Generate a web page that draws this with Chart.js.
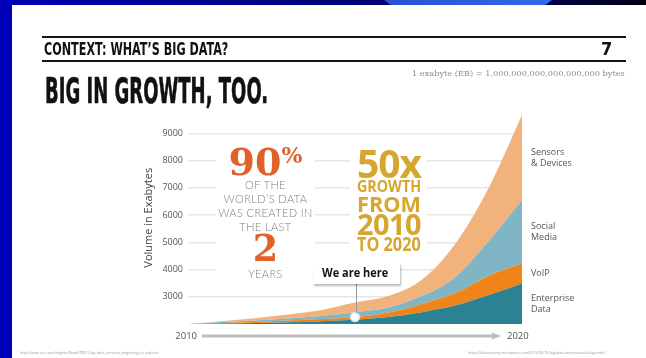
<!DOCTYPE html>
<html>
<head>
<meta charset="utf-8">
<script src="https://cdn.jsdelivr.net/npm/chart.js@4.4.1/dist/chart.umd.min.js"></script>
<style>
  html, body { margin: 0; padding: 0; }
  body { width: 646px; height: 358px; overflow: hidden; background: #fff; position: relative; font-family: 'Open Sans', sans-serif; }
  #topbar { position: absolute; left: 0; top: 0; width: 646px; height: 5px; background: linear-gradient(90deg, #0000b4 0%, #00007c 50%, #000058 80%, #000012 100%); z-index: 3; }
  #tab { position: absolute; left: 384px; top: 0; width: 168px; height: 5px; background: linear-gradient(90deg, #2850d4, #3467ec); clip-path: polygon(0 0, 100% 0, 96% 100%, 4% 100%); z-index: 4; }
  #leftbar { position: absolute; left: 0; top: 0; width: 12px; height: 358px; background: #0000b8; z-index: 3; }
  #chart { position: absolute; left: 0; top: 0; z-index: 1; }
  .rule { position: absolute; left: 42px; width: 584px; height: 1.5px; background: #151515; z-index: 2; }
  .abs { position: absolute; white-space: nowrap; line-height: 1; z-index: 2; transform-origin: left top; }
  .cond { font-family: 'Liberation Sans Narrow', 'DejaVu Sans Condensed', sans-serif; font-weight: bold; color: #111; }
  .box { position: absolute; background: #fff; z-index: 2; }
  .serif { font-family: 'DejaVu Serif', serif; font-weight: bold; color: #e2612a; }
  .thin { font-family: 'Lato', sans-serif; font-weight: 300; color: #7c7c7c; font-size: 11px; letter-spacing: 0.4px; width: 99px; text-align: center; left: 0; }
  .gold { font-family: 'Open Sans', sans-serif; font-weight: bold; color: #d6a62e; left: 7px; }
  #here { position: absolute; left: 313px; top: 263px; width: 87px; height: 21px; background: #fff; box-shadow: 1px 2px 2px rgba(0,0,0,0.28); z-index: 2; }
  .src { position: absolute; top: 350px; font-size: 3.6px; color: #9a9a9a; white-space: nowrap; z-index: 2; }
</style>
</head>
<body>
<div id="topbar"></div><div id="tab"></div><div id="leftbar"></div>

<div class="rule" style="top:36px"></div>
<div class="abs cond" data-fit="184" style="left:44px; top:40px; font-size:18px;">CONTEXT: WHAT’S BIG DATA?</div>
<div class="abs cond" style="left:601px; top:40px; font-size:18px;">7</div>
<div class="rule" style="top:60px"></div>
<div class="abs cond" data-fit="223" style="left:45px; top:73px; font-size:36px; -webkit-text-stroke:0.6px #111;">BIG IN GROWTH, TOO.</div>
<div class="abs" data-fit="213" style="left:412px; top:70px; font-family:'DejaVu Serif', serif; font-size:8px; color:#8c8c8c;">1 exabyte (EB) = 1,000,000,000,000,000,000 bytes</div>

<canvas id="chart" width="646" height="358"></canvas>

<!-- "90%" panel -->
<div class="box" style="left:216px; top:140px; width:99px; height:147px;">
  <div class="abs serif" style="left:0; width:99px; text-align:center; top:2.5px; font-size:38px;">90<span style="font-size:22px; vertical-align:top; position:relative; top:1px;">%</span></div>
  <div class="abs thin" style="top:39px;">OF THE</div>
  <div class="abs thin" style="top:53.4px;">WORLD’S DATA</div>
  <div class="abs thin" style="top:66.8px;">WAS CREATED IN</div>
  <div class="abs thin" style="top:80.8px;">THE LAST</div>
  <div class="abs serif" style="left:0; width:99px; text-align:center; top:90.7px; font-size:36.5px;">2</div>
  <div class="abs thin" style="top:128.4px;">YEARS</div>
</div>

<!-- "50x" panel -->
<div class="box" style="left:350px; top:140px; width:77px; height:117px;">
  <div class="abs gold" data-fit="64" style="top:3.2px; font-size:39px; letter-spacing:-1px;">50x</div>
  <div class="abs gold" data-fit="64" style="top:39px; font-size:15.4px;">GROWTH</div>
  <div class="abs gold" data-fit="64" style="top:52.2px; font-size:22px;">FROM</div>
  <div class="abs gold" data-fit="64" style="top:70.1px; font-size:28px; letter-spacing:-0.5px;">2010</div>
  <div class="abs gold" data-fit="64" style="top:95px; font-size:18.8px;">TO 2020</div>
</div>

<div id="here"><div class="abs" data-fit="66" style="left:9px; top:4px; font-size:11.5px; font-weight:bold; color:#111;">We are here</div></div>

<div class="src" style="left:20px;">http://www.csc.com/insights/flxwd/78931-big_data_universe_beginning_to_explode</div>
<div class="src" style="left:468px;">https://dataconomy.wordpress.com/2015/06/25/big-data-universe-and-its-growth/</div>

<script>
const years = ['2010', '2011', '2012', '2013', '2014', '2015', '2016', '2017', '2018', '2019', '2020'];
// stacked volumes in exabytes; the first band sits on the 2000 floor of the axis
const enterpriseData = [2000, 2015, 2035, 2060, 2105, 2160, 2255, 2435, 2675, 3060, 3490];
const voip = [0, 20, 40, 65, 75, 95, 165, 295, 460, 715, 735];
const socialMedia = [0, 35, 50, 75, 110, 175, 185, 295, 585, 1265, 2325];
const sensorsDevices = [0, 35, 90, 145, 220, 355, 420, 595, 1215, 1950, 3120];
const yTicks = [3000, 4000, 5000, 6000, 7000, 8000, 9000];
const seriesLabels = [['Enterprise', 'Data'], ['VoIP'], ['Social', 'Media'], ['Sensors', '& Devices']];
const hereYear = '2015';

const hereIdx = years.indexOf(hereYear);

// squeeze headline text into its column width
document.querySelectorAll('[data-fit]').forEach(el => {
  el.style.transform = 'scaleX(' + (+el.dataset.fit / el.offsetWidth) + ')';
});

Chart.defaults.font.family = "'Open Sans', sans-serif";

function band(i, data, color, fill) {
  return {
    label: seriesLabels[i].join(' '),
    data: data,
    backgroundColor: color,
    borderColor: 'transparent',
    borderWidth: 0,
    fill: fill,
    pointRadius: 0,
    cubicInterpolationMode: 'monotone'
  };
}

const voipBand = band(1, voip, '#ef8419', '-1');
voipBand.pointRadius = years.map((_, i) => i === hereIdx ? 4.5 : 0);
voipBand.pointBackgroundColor = '#ffffff';
voipBand.pointBorderColor = '#cfe5ec';
voipBand.pointBorderWidth = 1.5;

// names at the right end of each band
const bandLabels = {
  id: 'bandLabels',
  afterDraw(chart) {
    const { ctx, chartArea } = chart;
    ctx.save();
    ctx.font = "9px 'Open Sans'";
    ctx.fillStyle = '#555';
    ctx.textBaseline = 'middle';
    ctx.textAlign = 'left';
    let below = chartArea.bottom;
    chart.data.datasets.forEach((ds, i) => {
      const pts = chart.getDatasetMeta(i).data;
      const top = pts[pts.length - 1].y;
      const mid = (top + below) / 2;
      const lines = seriesLabels[i];
      lines.forEach((t, k) => {
        ctx.fillText(t, chartArea.right + 9, mid + (k - (lines.length - 1) / 2) * 11);
      });
      below = top;
    });
    ctx.restore();
  }
};

// 2010 ---> 2020 arrow under the plot, plus the "we are here" pointer
const timeAxis = {
  id: 'timeAxis',
  afterDraw(chart) {
    const { ctx, chartArea } = chart;
    const x = chart.scales.x;
    const y = chartArea.bottom + 12;
    const x0 = x.getPixelForValue(0);
    const x1 = x.getPixelForValue(years.length - 1);
    ctx.save();
    ctx.font = "9.5px 'Open Sans'";
    ctx.fillStyle = '#555';
    ctx.textBaseline = 'middle';
    ctx.textAlign = 'right';
    ctx.fillText(years[0], x0 + 9, y);
    ctx.textAlign = 'left';
    ctx.fillText(years[years.length - 1], x1 - 15, y);
    ctx.strokeStyle = '#bdbdbd';
    ctx.lineWidth = 3;
    ctx.beginPath();
    ctx.moveTo(x0 + 14, y);
    ctx.lineTo(x1 - 28, y);
    ctx.stroke();
    ctx.fillStyle = '#bdbdbd';
    ctx.beginPath();
    ctx.moveTo(x1 - 30, y - 3.5);
    ctx.lineTo(x1 - 21, y);
    ctx.lineTo(x1 - 30, y + 3.5);
    ctx.closePath();
    ctx.fill();

    const p = chart.getDatasetMeta(1).data[hereIdx];
    ctx.strokeStyle = '#9c9c9c';
    ctx.lineWidth = 1;
    ctx.beginPath();
    ctx.moveTo(p.x + 1.5, p.y - 4);
    ctx.lineTo(p.x + 1.5, 284);
    ctx.stroke();
    ctx.restore();
  }
};

new Chart(document.getElementById('chart'), {
  type: 'line',
  data: {
    labels: years,
    datasets: [
      band(0, enterpriseData, '#2a8293', 'origin'),
      voipBand,
      band(2, socialMedia, '#7fb5c4', '-1'),
      band(3, sensorsDevices, '#f1b27b', '-1')
    ]
  },
  options: {
    responsive: false,
    animation: false,
    devicePixelRatio: 1,
    layout: { padding: { left: 138, right: 124, top: 111.5, bottom: 34 } },
    plugins: {
      legend: { display: false },
      tooltip: { enabled: false },
      filler: { drawTime: 'beforeDatasetsDraw' }
    },
    scales: {
      x: { display: false, stacked: true },
      y: {
        stacked: true,
        min: 2000,
        max: 9800,
        afterBuildTicks: s => { s.ticks = yTicks.map(v => ({ value: v })); },
        afterFit: s => { s.width = 50; },
        border: { display: false },
        grid: { color: '#e6e6e6', lineWidth: 1.5, drawTicks: false },
        ticks: { padding: 5, color: '#555', font: { size: 9 }, callback: v => String(v) },
        title: { display: true, text: 'Volume in Exabytes', color: '#444', font: { size: 11 }, padding: { top: 4, bottom: 0 } }
      }
    }
  },
  plugins: [bandLabels, timeAxis]
});
</script>
</body>
</html>
